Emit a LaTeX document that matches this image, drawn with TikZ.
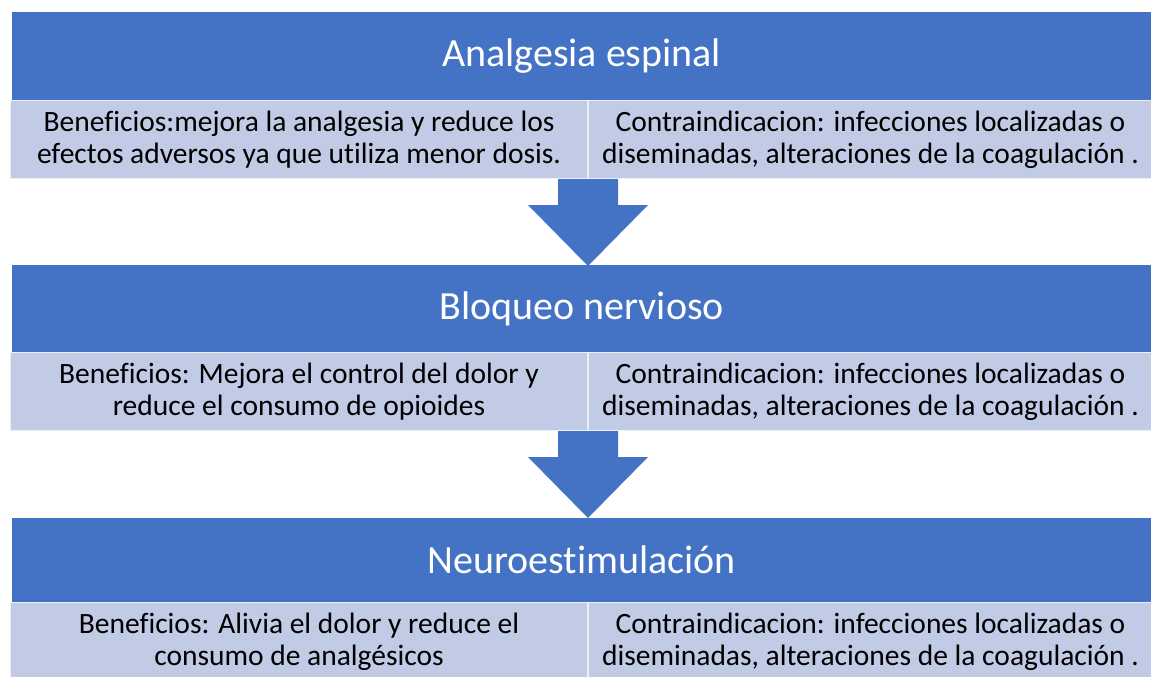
\documentclass[tikz,border=0pt]{standalone}
\usepackage{fontspec}
\setmainfont[Ligatures=NoCommon]{Carlito}
\usetikzlibrary{positioning}
\definecolor{hdrblue}{RGB}{68,114,196}
\definecolor{cellblue}{RGB}{194,203,230}
\newcommand{\contratext}{Contraindicacion: infecciones localizadas o\\diseminadas, alteraciones de la coagulación .}
\tikzset{
  header/.style={fill=hdrblue, text=white, anchor=north west, inner sep=0pt,
    minimum width=1139pt, minimum height=88pt, font=\fontsize{40}{46}\selectfont},
  cell/.style={fill=cellblue, draw=white!70!cellblue, line width=1pt, anchor=north west,
    inner sep=0pt, minimum height=78pt, align=center, font=\fontsize{29.5}{32}\selectfont},
}
\tikzset{
  pics/downarrow/.style args={#1/#2}{% #1=length, #2=half shaft width
    code = {
      \fill[hdrblue] (-#2, 0) -- (#2, 0) -- (#2, 26) -- (2*#2, 26) -- (0, #1)
        -- (-2*#2, 26) -- (-#2, 26) -- cycle;
}}}

\begin{document}
\begin{tikzpicture}[x=1pt, y=-1pt]
  \useasboundingbox (0, 0) rectangle (1151, 677);

  \node[header] (espinal) at (12, 12) {Analgesia espinal};
  \node[cell, minimum width=577pt] (benespinal) at (10, 100)
    {Beneficios:mejora la analgesia y reduce los\\efectos adversos ya que utiliza menor dosis.};
  \node[cell, minimum width=564pt] (conespinal) at (benespinal.north east) {\contratext};
  \pic at (benespinal.south east) {downarrow={87/30}};

  \node[header, minimum height=87pt] (bloqueo) at (12, 265) {Bloqueo nervioso};
  \node[cell, minimum width=577pt] (benbloqueo) at (10, 352)
    {Beneficios: Mejora el control del dolor y\\reduce el consumo de opioides};
  \node[cell, minimum width=564pt] (conbloqueo) at (benbloqueo.north east) {\contratext};
  \pic at (benbloqueo.south east) {downarrow={87/30}};

  \node[header, minimum height=84pt] (neuro) at (12, 518) {Neuroestimulación};
  \node[cell, minimum width=577pt] (benneuro) at (10, 602)
    {Beneficios: Alivia el dolor y reduce el\\consumo de analgésicos};
  \node[cell, minimum width=564pt] (conneuro) at (benneuro.north east) {\contratext};

\end{tikzpicture}
\end{document}
